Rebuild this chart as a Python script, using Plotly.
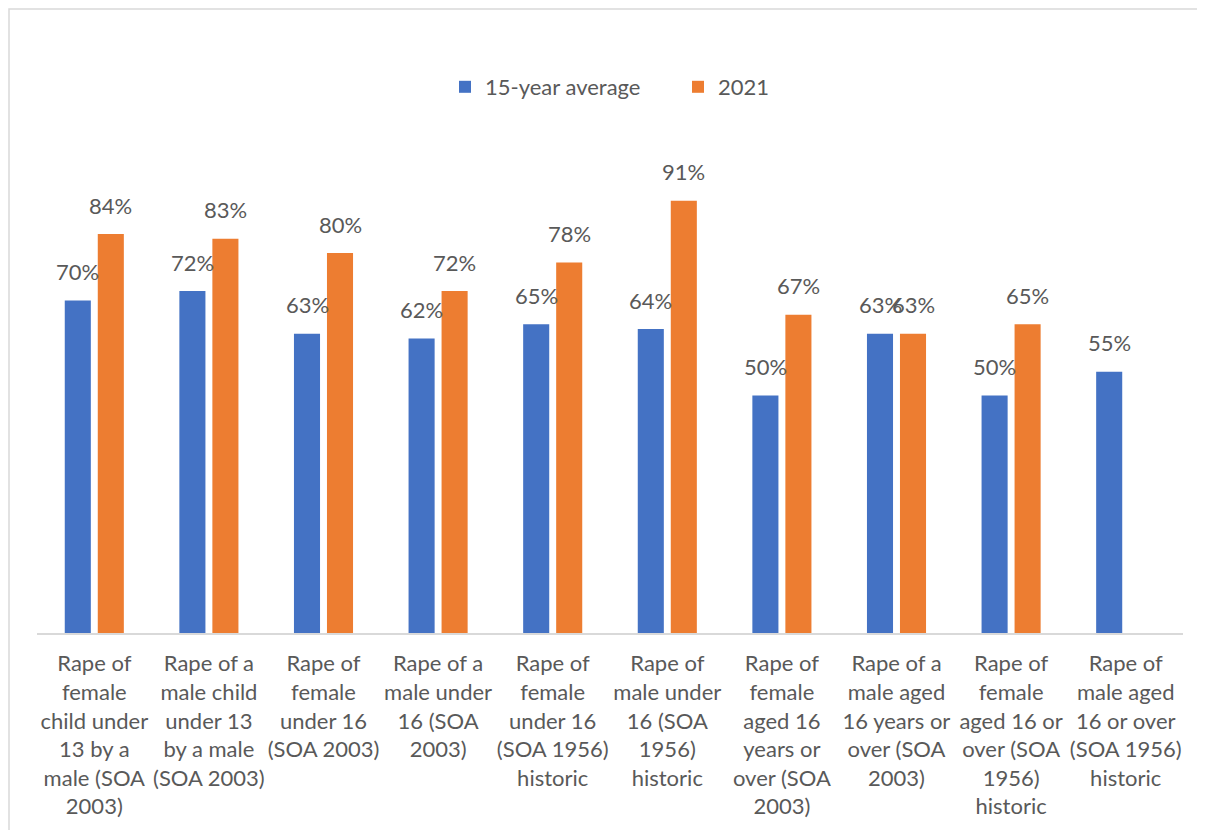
import plotly.graph_objects as go

categories = [
    "Rape of<br>female<br>child under<br>13 by a<br>male (SOA<br>2003)",
    "Rape of a<br>male child<br>under 13<br>by a male<br>(SOA 2003)",
    "Rape of<br>female<br>under 16<br>(SOA 2003)",
    "Rape of a<br>male under<br>16 (SOA<br>2003)",
    "Rape of<br>female<br>under 16<br>(SOA 1956)<br>historic",
    "Rape of<br>male under<br>16 (SOA<br>1956)<br>historic",
    "Rape of<br>female<br>aged 16<br>years or<br>over (SOA<br>2003)",
    "Rape of a<br>male aged<br>16 years or<br>over (SOA<br>2003)",
    "Rape of<br>female<br>aged 16 or<br>over (SOA<br>1956)<br>historic",
    "Rape of<br>male aged<br>16 or over<br>(SOA 1956)<br>historic",
]
avg_15yr = [0.70, 0.72, 0.63, 0.62, 0.65, 0.64, 0.50, 0.63, 0.50, 0.55]
y2021 = [0.84, 0.83, 0.80, 0.72, 0.78, 0.91, 0.67, 0.63, 0.65, None]

BLUE = "#4472C4"
ORANGE = "#ED7D31"
TXT = "#595959"
FONT = "Lato"
FS = 22

# page has an 8px body margin; figure fills the rest of the window
W, H = 1189, 822
L, R, T, B = 29, 14, 150, 197

fig = go.Figure()
fig.add_trace(go.Bar(name="15-year average", x=categories, y=avg_15yr,
                     marker=dict(color=BLUE, line=dict(width=0))))
fig.add_trace(go.Bar(name="2021", x=categories, y=y2021,
                     marker=dict(color=ORANGE, line=dict(width=0))))

annotations = []
for series, shift in ((avg_15yr, -16.5), (y2021, 16.5)):
    for c, v in zip(categories, series):
        if v is None:
            continue
        annotations.append(dict(x=c, y=v, xref="x", yref="y", text=f"{round(v*100)}%",
                                showarrow=False, xshift=shift, yshift=29,
                                yanchor="middle", font=dict(family=FONT, size=FS, color=TXT)))

pw = W - L - R
ph = H - T - B
fig.add_shape(type="rect", xref="paper", yref="paper",
              x0=(1 - L) / pw, x1=(W + 20 - L) / pw,
              y0=-(B + 20) / ph, y1=(ph + T - 1) / ph,
              line=dict(color="#D9D9D9", width=1.5), fillcolor="rgba(0,0,0,0)", layer="below")

fig.update_layout(
    width=W, height=H,
    margin=dict(l=L, r=R, t=T, b=B, pad=0),
    paper_bgcolor="white", plot_bgcolor="white",
    barmode="group", bargap=0.424, bargroupgap=0.21,
    annotations=annotations,
    font=dict(family=FONT, size=FS, color=TXT),
    legend=dict(orientation="h", x=(451 - 14 - L) / pw, xanchor="left",
                y=(ph + T - 79) / ph, yanchor="middle",
                font=dict(family=FONT, size=FS, color=TXT), traceorder="normal",
                entrywidth=188, itemwidth=30),
    xaxis=dict(showline=True, linecolor="#D9D9D9", linewidth=2, ticks="",
               tickfont=dict(family=FONT, size=FS, color=TXT), ticklabelstandoff=10,
               showgrid=False, zeroline=False),
    yaxis=dict(range=[0, 1], visible=False, showgrid=False, zeroline=False),
    showlegend=True,
)

fig.write_html("out.html")
